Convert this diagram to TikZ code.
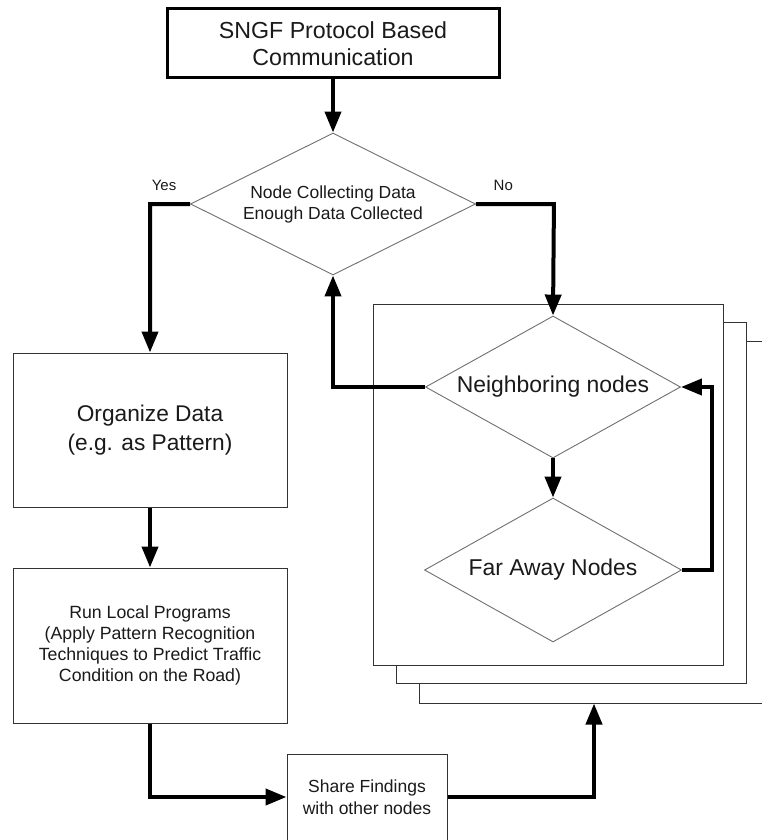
\documentclass[tikz,border=0pt]{standalone}
\usepackage{fontspec}
\setmainfont{Liberation Sans}
\usetikzlibrary{shapes.geometric,arrows.meta}
\definecolor{textgray}{HTML}{1A1A1A}
\definecolor{boxgray}{HTML}{333333}
\definecolor{diagray}{HTML}{707070}
\begin{document}
\begin{tikzpicture}[x=1pt,y=-1pt,
  box/.style={draw=boxgray, line width=1pt, fill=white, rectangle, inner sep=0pt, align=center, text=textgray},
  dia/.style={draw=diagray, line width=0.9pt, fill=white, diamond, shape aspect=2, inner sep=0pt, align=center, text=textgray},
  flow/.style={line width=4pt, line join=miter, -{Triangle[length=21pt,width=16pt]}},
  lab/.style={font=\fontsize{15}{18}\selectfont, text=textgray, inner sep=0pt}]
\useasboundingbox (0,0) rectangle (762,840);
\clip (0,0) rectangle (762,840);

% top box
\node[box, draw=black, line width=3pt, minimum width=332pt, minimum height=69pt,
      font=\fontsize{23.2}{27}\selectfont] (top) at (333,43.5)
      {SNGF Protocol Based\\Communication};

% decision
\node[dia, minimum width=285pt, minimum height=142pt,
      font=\fontsize{17.5}{21}\selectfont] (d1) at (333,204)
      {Node Collecting Data\\Enough Data Collected};

% stacked frames
\node[box, minimum width=350pt, minimum height=362pt] (stack3) at (594,522) {};
\node[box, minimum width=350pt, minimum height=361pt] (stack2) at (571,502.5) {};
\node[box, minimum width=350pt, minimum height=361pt] (stack1) at (548,484.5) {};

\node[dia, minimum width=255pt, minimum height=142pt,
      font=\fontsize{22.9}{26}\selectfont] (nb) at (553,387) {Neighboring nodes};
\node[dia, minimum width=257pt, minimum height=144pt,
      font=\fontsize{22.9}{26}\selectfont] (far) at (553,570) {Far Away Nodes};

% left column
\node[box, minimum width=274pt, minimum height=154pt,
      font=\fontsize{22.7}{29}\selectfont] (org) at (150,430)
      {Organize Data\\(e.g. as Pattern)};
\node[box, minimum width=274pt, minimum height=155pt,
      font=\fontsize{17.7}{21}\selectfont] (run) at (150,645.5)
      {Run Local Programs\\(Apply Pattern Recognition\\Techniques to Predict Traffic\\Condition on the Road)};
\node[box, minimum width=160pt, minimum height=86pt,
      font=\fontsize{17.5}{21.7}\selectfont] (share) at (367,797)
      {Share Findings\\with other nodes};

% connectors
\draw[flow] (top.south) -- (d1.north);
\draw[flow] (d1.west) -- node[lab, pos=0.65, above=11pt] {Yes} ++(-40,0) -- (org.north);
\draw[flow] (d1.east) -- node[lab, pos=0.35, above=11pt] {No} ++(78,0) -- (nb.north);
\draw[flow] (nb.west) -| (d1.south);
\draw[flow] (nb.south) -- (far.north);
\draw[flow] (far.east) -- ++(30,0) |- (nb.east);
\draw[flow] (org.south) -- (run.north);
\draw[flow] (run.south) |- (share.west);
\draw[flow] (share.east) -| (stack3.south);
\end{tikzpicture}
\end{document}
